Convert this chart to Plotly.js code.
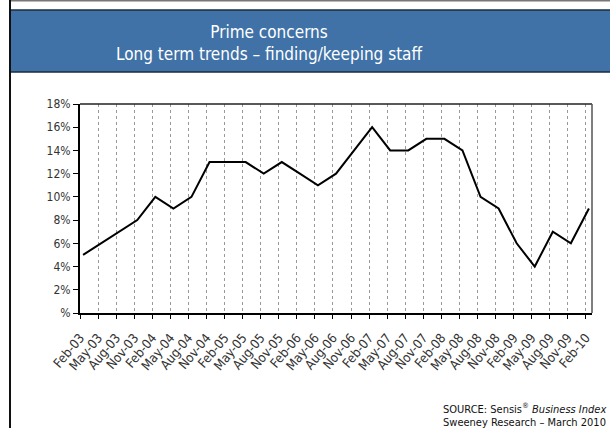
<!DOCTYPE html>
<html>
<head>
<meta charset="utf-8">
<script src="https://cdn.plot.ly/plotly-3.0.1.min.js"></script>
<style>
html,body{margin:0;padding:0;background:#fff;}
#chart{width:610px;height:428px;}
</style>
</head>
<body>
<div id="chart"></div>
<script>
// ---- data ----
const periods = ["Feb-03","May-03","Aug-03","Nov-03","Feb-04","May-04","Aug-04","Nov-04",
  "Feb-05","May-05","Aug-05","Nov-05","Feb-06","May-06","Aug-06","Nov-06",
  "Feb-07","May-07","Aug-07","Nov-07","Feb-08","May-08","Aug-08","Nov-08",
  "Feb-09","May-09","Aug-09","Nov-09","Feb-10"];
const values = [5,6,7,8,10,9,10,13,13,13,12,13,12,11,12,14,16,14,14,15,15,14,10,9,6,4,7,6,9];
const yTickVals = [0,2,4,6,8,10,12,14,16,18];
const yTickText = ["%","2%","4%","6%","8%","10%","12%","14%","16%","18%"];

// ---- layout geometry ----
const W = 610, H = 428;
const M = {l:80, r:18, t:104, b:115};
const pw = W - M.l - M.r, ph = H - M.t - M.b;
const px = x => (x - M.l) / pw;
const py = y => (H - M.b - y) / ph;

const xIdx = periods.map((p, i) => i);
const tickOffset = 0.17;

const fontNarrow = "'Liberation Sans Narrow', 'DejaVu Sans Condensed', 'Liberation Sans', sans-serif";

const trace = {
  x: xIdx,
  y: values,
  type: 'scatter',
  mode: 'lines',
  line: {color: '#000', width: 2},
  hoverinfo: 'skip',
  showlegend: false
};

const layout = {
  width: W, height: H,
  margin: M,
  paper_bgcolor: '#fff',
  plot_bgcolor: '#fff',
  font: {family: fontNarrow, color: '#333', size: 11},
  title: {
    text: 'Prime concerns<br>Long term trends – finding/keeping staff',
    font: {family: fontNarrow, color: '#fff', size: 17},
    xref: 'container', x: 269 / W, xanchor: 'center',
    yref: 'container', y: 1 - 38 / H, yanchor: 'middle'
  },
  xaxis: {
    type: 'linear',
    range: [-tickOffset, periods.length - 1 + tickOffset],
    tickvals: xIdx.map(i => i - tickOffset),
    ticktext: periods,
    tickangle: -50,
    ticklabelstandoff: 6,
    tickfont: {family: fontNarrow, size: 13, color: '#333'},
    ticks: 'outside', ticklen: 4, tickcolor: '#000', tickwidth: 1,
    showgrid: true, gridcolor: '#999', gridwidth: 1, griddash: 'dot',
    showline: true, linecolor: '#000', linewidth: 2,
    zeroline: false, fixedrange: true
  },
  yaxis: {
    range: [0, 18],
    tickvals: yTickVals,
    ticktext: yTickText,
    tickfont: {family: fontNarrow, size: 12, color: '#333'},
    ticks: 'outside', ticklen: 5, tickcolor: '#000', tickwidth: 1,
    showgrid: false,
    showline: true, linecolor: '#000', linewidth: 2,
    zeroline: false, fixedrange: true
  },
  shapes: [
    // header background
    {type: 'rect', xref: 'paper', yref: 'paper', layer: 'below',
     x0: px(10), x1: px(612), y0: py(72), y1: py(10),
     fillcolor: '#4072a7', line: {color: '#1c2b3f', width: 1.5}},
    // top gray line
    {type: 'line', xref: 'paper', yref: 'paper',
     x0: px(10), x1: px(612), y0: py(0.5), y1: py(0.5),
     line: {color: '#777', width: 2}},
    // left frame line
    {type: 'line', xref: 'paper', yref: 'paper',
     x0: px(10), x1: px(10), y0: py(0), y1: py(428),
     line: {color: '#111', width: 2}},
    // plot top & right border
    {type: 'line', xref: 'paper', yref: 'paper',
     x0: 0, x1: 1, y0: 1, y1: 1, line: {color: '#222', width: 1.5}},
    {type: 'line', xref: 'paper', yref: 'paper',
     x0: 1, x1: 1, y0: 0, y1: 1, line: {color: '#555', width: 1.5}}
  ],
  annotations: [
    {xref: 'paper', yref: 'paper', x: px(608), y: py(408),
     xanchor: 'right', yanchor: 'middle', showarrow: false,
     text: 'SOURCE: Sensis<sup>®</sup> <i>Business Index</i>',
     font: {family: fontNarrow, size: 11, color: '#111'}},
    {xref: 'paper', yref: 'paper', x: px(608), y: py(422),
     xanchor: 'right', yanchor: 'middle', showarrow: false,
     text: 'Sweeney Research – March 2010',
     font: {family: fontNarrow, size: 11, color: '#111'}}
  ]
};

Plotly.newPlot('chart', [trace], layout, {displayModeBar: false, staticPlot: true});
</script>
</body>
</html>
